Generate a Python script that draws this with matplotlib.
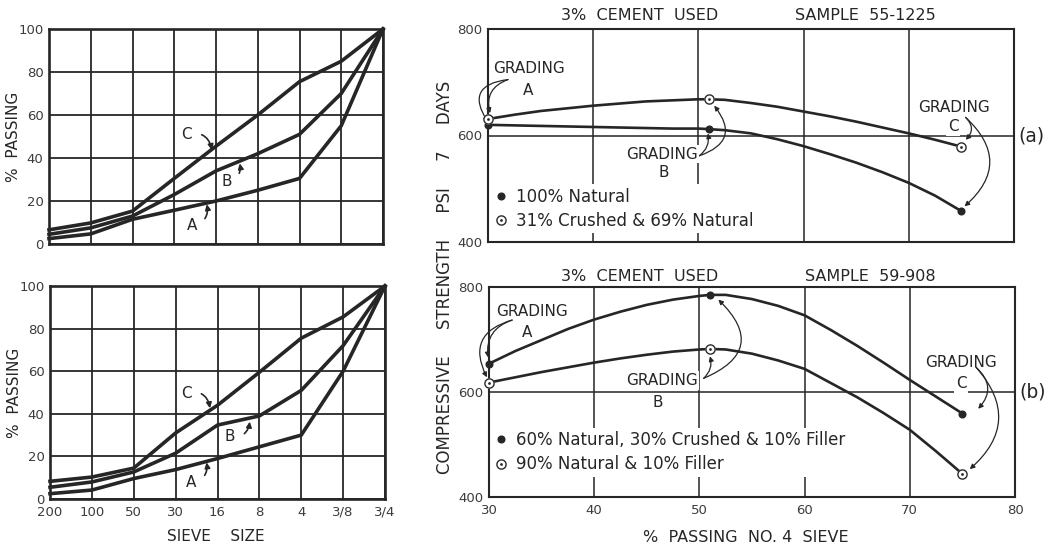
import numpy as np
import matplotlib
matplotlib.use("Agg")
import matplotlib.pyplot as plt
from matplotlib.path import Path

# ---------------- data ----------------
sieve_labels = ["200", "100", "50", "30", "16", "8", "4", "3/8", "3/4"]
pct_ticks = [0, 20, 40, 60, 80, 100]

top_grading_A = [2.5, 4.7, 11.5, 15.7, 20.0, 25.0, 30.5, 55.0, 100.0]
top_grading_B = [4.5, 7.5, 13.0, 23.0, 34.0, 42.0, 51.0, 70.0, 100.0]
top_grading_C = [6.6, 9.8, 15.3, 30.5, 45.5, 60.0, 75.5, 85.0, 100.0]

bot_grading_A = [2.5, 4.2, 9.6, 13.8, 19.0, 24.5, 30.0, 60.0, 100.0]
bot_grading_B = [5.5, 8.0, 12.7, 21.5, 34.7, 39.0, 51.0, 72.0, 100.0]
bot_grading_C = [8.3, 10.3, 14.5, 31.0, 44.0, 59.5, 75.5, 85.5, 100.0]

passing_no4 = [30, 51, 75]          # gradings A, B, C
a_natural = [620, 612, 458]          # 100% Natural
a_crushed = [631, 668, 579]          # 31% Crushed & 69% Natural
b_mixed = [654, 785, 559]            # 60% Natural, 30% Crushed & 10% Filler
b_filler = [618, 682, 444]           # 90% Natural & 10% Filler

# smooth curves
curve_x = [30, 32.5, 35, 37.5, 40, 42.5, 45, 47.5, 50, 51,
           52.5, 55, 57.5, 60, 62.5, 65, 67.5, 70, 72.5, 75]
a_natural_curve = [620, 619, 618, 617, 616, 615, 614, 613, 613, 612,
                   610, 604, 593, 580, 565, 549, 531, 511, 487, 458]
a_crushed_curve = [631, 639, 646, 651, 656, 660, 664, 666, 668, 668,
                   667, 661, 654, 645, 636, 626, 615, 604, 592, 579]
b_mixed_curve = [654, 678, 699, 720, 738, 753, 766, 776, 783, 785,
                 785, 777, 764, 746, 718, 688, 656, 623, 591, 559]
b_filler_curve = [618, 628, 638, 647, 656, 664, 671, 677, 681, 682,
                  681, 673, 660, 644, 617, 590, 560, 528, 487, 444]

strength_xticks = [30, 40, 50, 60, 70, 80]
strength_yticks = [400, 600, 800]

# ---------------- figure ----------------
W, H = 1060, 547
fig = plt.figure(figsize=(W / 100, H / 100), dpi=100)
ink = "#262626"
tick_col = "#3c3c3c"

# "circle with a dot" marker: ring + centre dot as one path
_t = np.linspace(0, 2 * np.pi, 49)
_outer = np.column_stack([np.cos(_t), np.sin(_t)])
_inner = np.column_stack([0.74 * np.cos(_t[::-1]), 0.74 * np.sin(_t[::-1])])
_dot = np.column_stack([0.26 * np.cos(_t), 0.26 * np.sin(_t)])
_verts, _codes = [], []
for ring in (_outer, _inner, _dot):
    _verts.extend(ring.tolist())
    _codes.extend([Path.MOVETO] + [Path.LINETO] * (len(ring) - 2) + [Path.CLOSEPOLY])
dot_circle = Path(np.array(_verts), _codes)


def add_ax(l, t, r, b):
    return fig.add_axes([l / W, 1 - b / H, (r - l) / W, (b - t) / H])


ax_tl = add_ax(49, 29, 383, 244)
ax_bl = add_ax(50, 286, 385, 499)
ax_a = add_ax(488, 29, 1014, 242)
ax_b = add_ax(489, 287, 1015, 497)

# ---------- left: grading curves ----------
xi = np.arange(len(sieve_labels))
for ax, (A, B, C) in ((ax_tl, (top_grading_A, top_grading_B, top_grading_C)),
                      (ax_bl, (bot_grading_A, bot_grading_B, bot_grading_C))):
    ax.set_xlim(0, 8)
    ax.set_ylim(0, 100)
    ax.set_xticks(xi)
    ax.set_yticks(pct_ticks)
    ax.grid(True, color=ink, lw=1.3)
    ax.set_axisbelow(True)
    for s in ax.spines.values():
        s.set_linewidth(1.9)
        s.set_color(ink)
    ax.tick_params(length=0, pad=4, labelsize=9.5, labelcolor=tick_col)
    for ys in (A, B, C):
        ax.plot(xi, ys, color=ink, lw=2.6, solid_joinstyle="miter", zorder=3,
                clip_on=False)
    ax.set_ylabel("%  PASSING", fontsize=11, color=ink, va="center")
    ax.yaxis.set_label_coords(-0.105, 0.5)

ax_tl.set_xticklabels([])
ax_bl.set_xticklabels(sieve_labels)
ax_bl.tick_params(axis="x", pad=5)
ax_bl.set_xlabel("SIEVE    SIZE", fontsize=11, color=ink, va="center")
ax_bl.xaxis.set_label_coords(0.4955, -0.178)

lbl_kw = dict(fontsize=11, color=ink, ha="center", va="center")


def grade_label(ax, txt, xytext, xy, rad):
    ax.annotate(txt, xy=xy, xytext=xytext, **lbl_kw,
                arrowprops=dict(arrowstyle="-|>", connectionstyle=f"arc3,rad={rad}",
                                lw=1.2, color=ink, shrinkA=5, shrinkB=0,
                                mutation_scale=8))


grade_label(ax_tl, "C", (3.3, 50.7), (3.9, 43.7), -0.55)
grade_label(ax_tl, "B", (4.26, 29.0), (4.57, 37.5), 0.5)
grade_label(ax_tl, "A", (3.42, 8.4), (3.78, 18.5), 0.5)
grade_label(ax_bl, "C", (3.26, 49.6), (3.82, 42.6), -0.55)
grade_label(ax_bl, "B", (4.3, 29.2), (4.77, 36.3), 0.5)
grade_label(ax_bl, "A", (3.38, 7.8), (3.74, 17.2), 0.5)

# ---------- right: strength curves ----------
for ax in (ax_a, ax_b):
    ax.set_xlim(30, 80)
    ax.set_ylim(400, 800)
    ax.set_xticks(strength_xticks)
    ax.set_yticks(strength_yticks)
    ax.grid(False)
    for xv in strength_xticks[1:-1]:
        ax.axvline(xv, color=ink, lw=1.1, zorder=0.5)
    ax.axhline(600, color=ink, lw=1.1, zorder=0.5)
    for s in ax.spines.values():
        s.set_linewidth(1.5)
        s.set_color(ink)
    ax.tick_params(length=0, pad=4, labelsize=9.5, labelcolor=tick_col)

ax_a.set_xticklabels([])
ax_b.tick_params(axis="x", pad=5)


def plot_pair(ax, cx, filled_curve, open_curve, filled_pts, open_pts):
    ax.plot(cx, filled_curve, color=ink, lw=1.9, zorder=3)
    ax.plot(cx, open_curve, color=ink, lw=1.9, zorder=3)
    hf, = ax.plot(passing_no4, filled_pts, ls="none", marker="o", ms=4.8,
                  mfc=ink, mec=ink, zorder=4, clip_on=False)
    ax.plot(passing_no4, open_pts, ls="none", marker="o", ms=7.4,
            mfc="white", mec="none", zorder=4, clip_on=False)
    ho, = ax.plot(passing_no4, open_pts, ls="none", marker=dot_circle, ms=7.6,
                  mfc=ink, mec="none", zorder=5, clip_on=False)
    return hf, ho


hf_a, ho_a = plot_pair(ax_a, curve_x, a_natural_curve, a_crushed_curve, a_natural, a_crushed)
hf_b, ho_b = plot_pair(ax_b, curve_x, b_mixed_curve, b_filler_curve, b_mixed, b_filler)

leg_kw = dict(loc="upper left", fontsize=12, frameon=True, facecolor="white",
              edgecolor="none", framealpha=1, handlelength=0.8, handletextpad=0.5,
              labelspacing=0.38, borderpad=0.2, borderaxespad=0)
leg_a = ax_a.legend([hf_a, ho_a], ["100% Natural", "31% Crushed & 69% Natural"],
                    bbox_to_anchor=(0.006, 0.27), **leg_kw)
leg_b = ax_b.legend([hf_b, ho_b], ["60% Natural, 30% Crushed & 10% Filler",
                                   "90% Natural & 10% Filler"],
                    bbox_to_anchor=(0.004, 0.33), **leg_kw)
for lg in (leg_a, leg_b):
    lg.set_zorder(1)
    for t in lg.get_texts():
        t.set_color(ink)

gtxt = dict(fontsize=11, color=ink, ha="center", va="center", zorder=1,
            bbox=dict(boxstyle="square,pad=0.12", fc="white", ec="none"))


def arrow(ax, start, end, rad):
    ax.annotate("", xy=end, xytext=start, annotation_clip=False,
                arrowprops=dict(arrowstyle="-|>", connectionstyle=f"arc3,rad={rad}",
                                lw=0.9, color=ink, shrinkA=0, shrinkB=0,
                                mutation_scale=7))


# (a) annotations
ax_a.text(33.9, 725, "GRADING", **gtxt)
ax_a.text(33.8, 685, "A", **gtxt)
arrow(ax_a, (31.9, 705), (30.2, 642), 0.45)
arrow(ax_a, (31.9, 705), (30.0, 625), 0.8)
ax_a.text(46.5, 565, "GRADING", **gtxt)
ax_a.text(46.7, 531, "B", **gtxt)
arrow(ax_a, (50.1, 562), (50.9, 604), 0.3)
arrow(ax_a, (50.1, 562), (51.5, 656), 0.7)
ax_a.text(74.3, 653, "GRADING", **gtxt)
ax_a.text(74.2, 616, "C", **gtxt)
arrow(ax_a, (75.4, 634), (75.4, 592), -0.5)
arrow(ax_a, (75.4, 634), (75.3, 467), -0.55)

# (b) annotations
ax_b.text(34.06, 753, "GRADING", **gtxt)
ax_b.text(33.6, 713, "A", **gtxt)
arrow(ax_b, (32.2, 737), (29.9, 666), 0.4)
arrow(ax_b, (32.2, 737), (29.8, 628), 0.6)
ax_b.text(46.4, 622, "GRADING", **gtxt)
ax_b.text(46.0, 580, "B", **gtxt)
arrow(ax_b, (50.4, 626), (51.0, 668), 0.3)
arrow(ax_b, (50.4, 626), (51.8, 776), 0.75)
ax_b.text(74.9, 657, "GRADING", **gtxt)
ax_b.text(74.9, 616, "C", **gtxt)
arrow(ax_b, (76.3, 647), (76.5, 568), -0.5)
arrow(ax_b, (76.3, 647), (75.7, 453), -0.5)

# panel tags
ax_a.text(1.008, 600, "(a)", transform=ax_a.get_yaxis_transform(), fontsize=13.5,
          color=ink, ha="left", va="center")
ax_b.text(1.008, 600, "(b)", transform=ax_b.get_yaxis_transform(), fontsize=13.5,
          color=ink, ha="left", va="center")

# titles
ax_a.text(0.289, 1.062, "3%  CEMENT  USED", fontsize=11.5, color=ink, ha="center",
          va="center", transform=ax_a.transAxes)
ax_a.text(0.717, 1.062, "SAMPLE  55-1225", fontsize=11.5, color=ink, ha="center",
          va="center", transform=ax_a.transAxes)
ax_b.text(0.287, 1.052, "3%  CEMENT  USED", fontsize=11.5, color=ink, ha="center",
          va="center", transform=ax_b.transAxes)
ax_b.text(0.724, 1.052, "SAMPLE  59-908", fontsize=11.5, color=ink, ha="center",
          va="center", transform=ax_b.transAxes)

# axis labels
ax_b.set_xlabel("%  PASSING  NO. 4  SIEVE", fontsize=11.5, color=ink, va="center")
ax_b.xaxis.set_label_coords(0.489, -0.193)
fig.text(445 / W, 1 - 277 / H, "COMPRESSIVE     STRENGTH     PSI     7     DAYS",
         rotation=90, fontsize=12, color=ink, ha="center", va="center")

fig.savefig("out.png", dpi=100)
